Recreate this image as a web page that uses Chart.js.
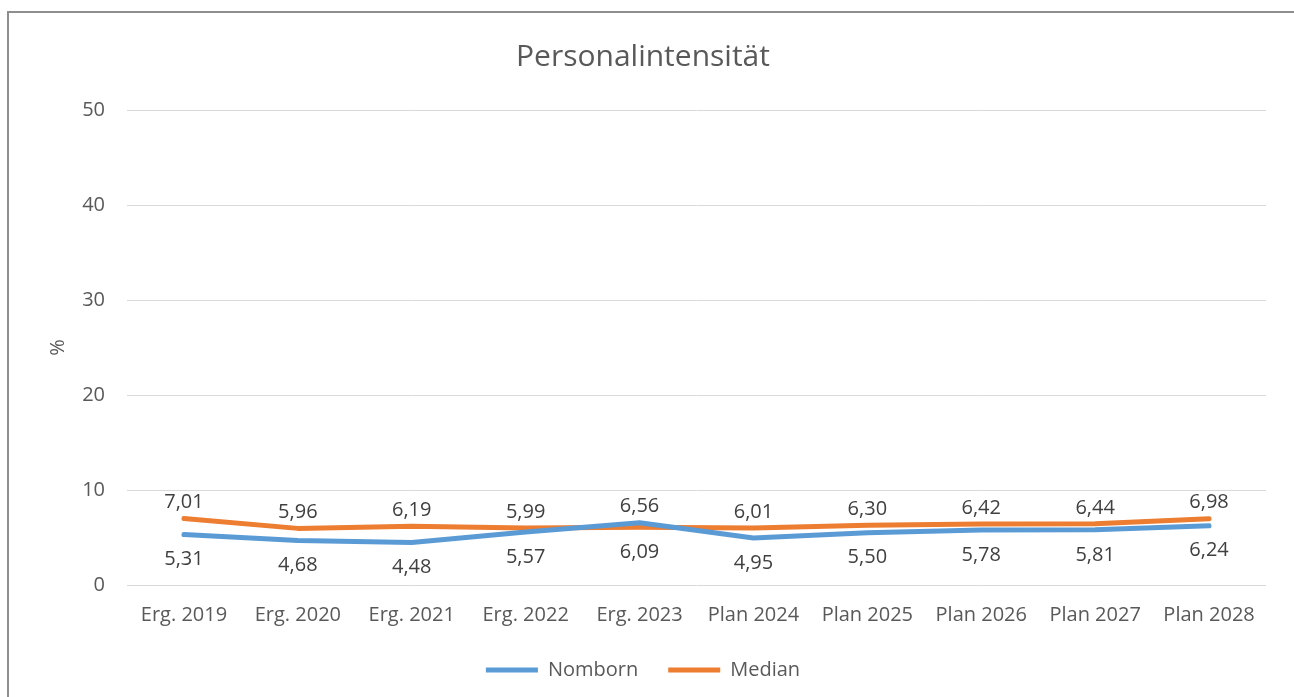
<!DOCTYPE html>
<html>
<head>
<meta charset="utf-8">
<script src="https://cdn.jsdelivr.net/npm/chart.js@4/dist/chart.umd.min.js"></script>
<style>
  body { margin: 0; background: #fff; }
  #wrap { position: relative; width: 1294px; height: 697px; overflow: hidden; }
  #frame { position: absolute; left: 7px; top: 11px; width: 1400px; height: 800px; border: 2px solid #8e8e8e; box-sizing: border-box; }
  canvas { position: absolute; left: 0; top: 0; }
</style>
</head>
<body>
<div id="wrap">
  <div id="frame"></div>
  <canvas id="chart" width="1294" height="697"></canvas>
</div>
<script>
// Daten
const labels = ["Erg. 2019", "Erg. 2020", "Erg. 2021", "Erg. 2022", "Erg. 2023",
                "Plan 2024", "Plan 2025", "Plan 2026", "Plan 2027", "Plan 2028"];
const nomborn = [5.31, 4.68, 4.48, 5.57, 6.56, 4.95, 5.50, 5.78, 5.81, 6.24];
const median = [7.01, 5.96, 6.19, 5.99, 6.09, 6.01, 6.30, 6.42, 6.44, 6.98];
const yTicks = [0, 10, 20, 30, 40, 50];

const FONT = "'Open Sans', sans-serif";
const fmt = v => v.toFixed(2).replace(".", ",");

// Wertbeschriftungen: der hoehere Wert oben, der niedrigere unten
const valueLabels = {
    id: "valueLabels",
    afterDatasetsDraw(chart) {
        const ctx = chart.ctx;
        const y = chart.scales.y;
        const x = chart.scales.x;
        ctx.save();
        ctx.font = "20px " + FONT;
        ctx.fillStyle = "#404040";
        ctx.textAlign = "center";
        ctx.textBaseline = "middle";
        labels.forEach((_, i) => {
            const px = x.getPixelForValue(i);
            const a = nomborn[i], b = median[i];
            const hi = Math.max(a, b), lo = Math.min(a, b);
            ctx.fillText(fmt(hi), px, y.getPixelForValue(hi) - 16);
            ctx.fillText(fmt(lo), px, y.getPixelForValue(lo) + 25);
        });
        ctx.restore();
    }
};

new Chart(document.getElementById("chart"), {
    type: "line",
    data: {
        labels: labels,
        datasets: [
            { label: "Nomborn", data: nomborn, borderColor: "#5B9BD5", backgroundColor: "#5B9BD5",
              borderWidth: 5, pointRadius: 0, borderCapStyle: "round", borderJoinStyle: "round", tension: 0 },
            { label: "Median", data: median, borderColor: "#ED7D31", backgroundColor: "#ED7D31",
              borderWidth: 5, pointRadius: 0, borderCapStyle: "round", borderJoinStyle: "round", tension: 0 },
        ],
    },
    options: {
        responsive: false,
        animation: false,
        layout: { padding: { left: 20, right: 28, top: 0, bottom: 7 } },
        plugins: {
            title: {
                display: true, text: "Personalintensität", color: "#595959",
                font: { family: FONT, size: 30, weight: "normal" },
                padding: { top: 39, bottom: 35 },
            },
            legend: {
                position: "bottom",
                labels: {
                    color: "#595959", font: { family: FONT, size: 20 },
                    usePointStyle: true, pointStyle: "line", pointStyleWidth: 52,
                    padding: 30,
                },
            },
            tooltip: { enabled: false },
        },
        scales: {
            x: {
                offset: true,
                grid: { display: false, drawTicks: false },
                border: { display: false },
                ticks: { color: "#595959", font: { family: FONT, size: 20 }, padding: 18, maxRotation: 0 },
                afterFit: s => { s.height = 45; },
            },
            y: {
                min: 0, max: 50,
                afterBuildTicks: s => { s.ticks = yTicks.map(v => ({ value: v })); },
                grid: { color: "#d9d9d9", lineWidth: 1, drawTicks: false },
                border: { display: false },
                ticks: { color: "#595959", font: { family: FONT, size: 20 }, padding: 22 },
                title: { display: true, text: "%", color: "#595959", font: { family: FONT, size: 20 }, padding: { top: 26 } },
                afterFit: s => { s.width = 107; },
            },
        },
    },
    plugins: [valueLabels],
});
</script>
</body>
</html>
